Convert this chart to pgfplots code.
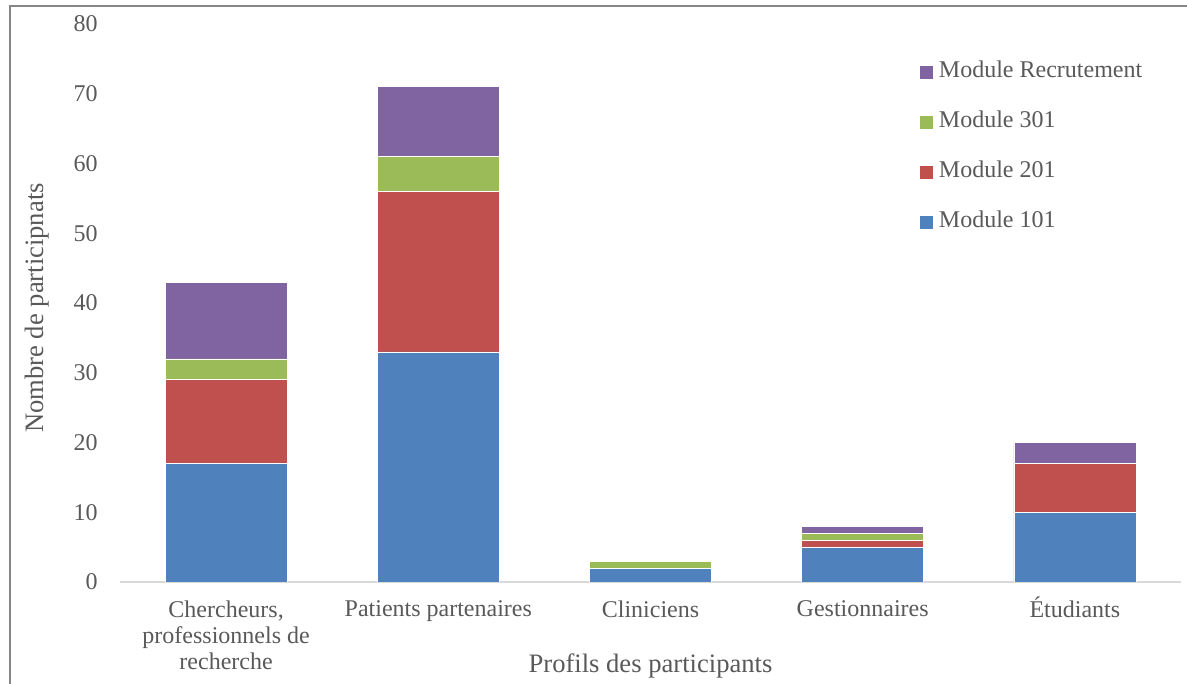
\documentclass[border=0pt]{standalone}
\usepackage{pgfplots}
\pgfplotsset{compat=1.18}
\usepackage{fontspec}
\setmainfont{Liberation Serif}
\definecolor{cblue}{HTML}{4F81BD}
\definecolor{cred}{HTML}{C0504D}
\definecolor{cgreen}{HTML}{9BBB59}
\definecolor{cpurple}{HTML}{8064A2}
\definecolor{txt}{HTML}{595959}
\definecolor{frame}{HTML}{868686}
\definecolor{baseline}{HTML}{D9D9D9}
\begin{document}
\begin{tikzpicture}
\path[use as bounding box] (0,0) rectangle (593.5pt,342pt);
\draw[color=frame, line width=1pt] (5pt,0) -- (5pt,339pt) -- (593.5pt,339pt);
\begin{axis}[
  at={(60pt,51pt)}, anchor=south west,
  scale only axis, width=530.5pt, height=279pt,
  ybar stacked, bar width=61pt,
  xmin=-0.5, xmax=4.5, ymin=0, ymax=80,
  xtick={0,1,2,3,4},
  xticklabels={{Chercheurs,\\professionnels de\\recherche},{Patients partenaires},{Cliniciens},{Gestionnaires},{\smash{É}tudiants}},
  ytick={0,10,...,80},
  axis lines*=left,
  y axis line style={draw=none},
  x axis line style={draw=baseline, line width=1pt},
  major tick length=0pt,
  /pgf/number format/assume math mode=true,
  font=\fontsize{12}{13}\selectfont,
  tick label style={color=txt},
  xticklabel style={align=center, inner sep=0pt, anchor=north, yshift=-9pt, font=\fontsize{12}{13}\selectfont},
  yticklabel style={inner sep=0pt, anchor=east, xshift=-11pt},
  xlabel={Profils des participants},
  ylabel={Nombre de participnats},
  label style={color=txt, font=\fontsize{13.3}{15}\selectfont},
  xlabel style={at={(axis description cs:0.5,-0.1505)}, anchor=center},
  ylabel style={at={(axis description cs:-0.0782,0.491)}, anchor=center, rotate=0},
  reverse legend,
  legend cell align=left,
  legend image code/.code={\fill[#1] (0pt,-3.5pt) rectangle (7pt,3.5pt);},
  legend style={at={(axis description cs:0.753,0.933)}, anchor=north west, draw=none, fill=none,
    inner sep=0pt, row sep=14pt, column sep=2.5pt, text=txt,
    nodes={inner sep=0pt, text height=8pt, text depth=3pt},
    font=\fontsize{12}{13}\selectfont},
]
\addplot[fill=cblue, draw=white, line width=0.3pt] coordinates {(0,17) (1,33) (2,2) (3,5) (4,10)};
\addplot[fill=cred, draw=white, line width=0.3pt] coordinates {(0,12) (1,23) (2,0) (3,1) (4,7)};
\addplot[fill=cgreen, draw=white, line width=0.3pt] coordinates {(0,3) (1,5) (2,1) (3,1) (4,0)};
\addplot[fill=cpurple, draw=white, line width=0.3pt] coordinates {(0,11) (1,10) (2,0) (3,1) (4,3)};
\legend{Module 101, Module 201, Module 301, Module Recrutement}
\end{axis}
\end{tikzpicture}
\end{document}
